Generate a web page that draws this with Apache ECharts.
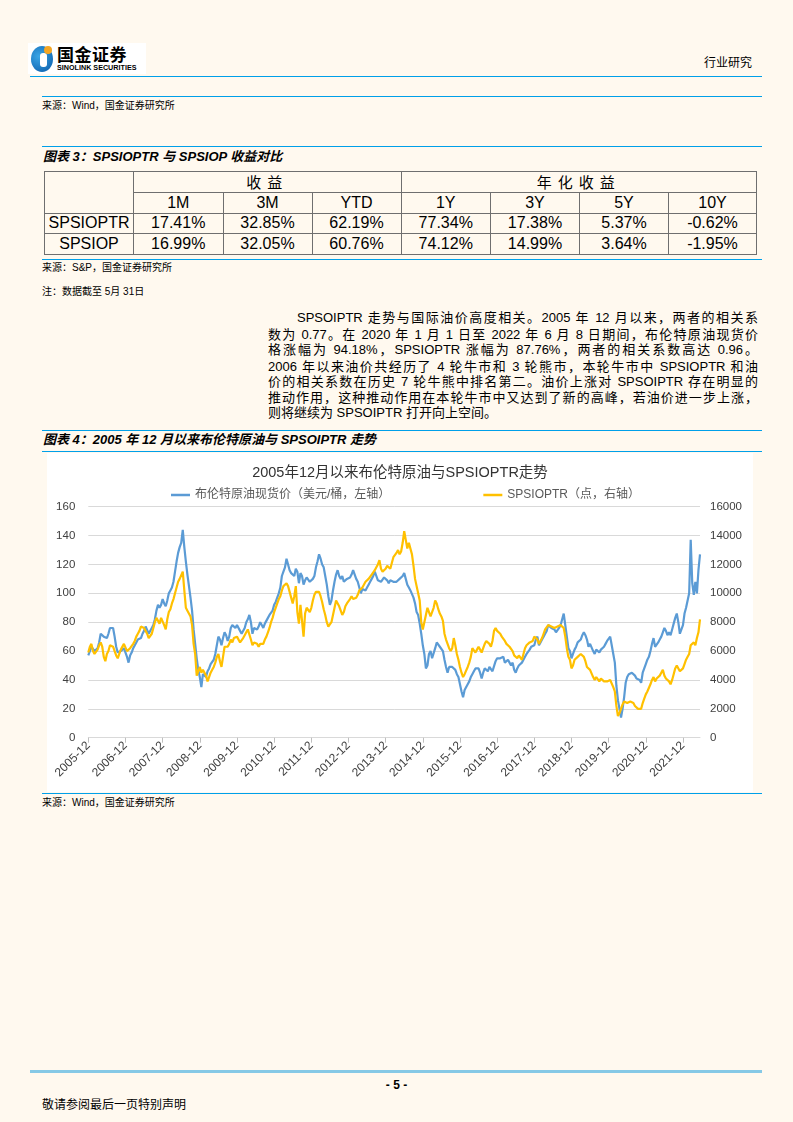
<!DOCTYPE html>
<html><head><meta charset="utf-8">
<script src="https://cdn.jsdelivr.net/npm/echarts/dist/echarts.min.js"></script>
<style>
body{margin:0;width:793px;height:1122px;background:#FFF9EF;position:relative;font-family:"Liberation Sans",Arial,"Noto Sans CJK SC",sans-serif;color:#000;overflow:hidden}
.abs{position:absolute;white-space:nowrap}
.hl{position:absolute;height:0;border-top:1.5px solid #00A0E9}
.src{position:absolute;left:42px;font-size:10px;line-height:12px;white-space:nowrap}
.ttl{position:absolute;left:43px;font-size:13px;line-height:16px;font-weight:bold;font-style:italic;white-space:nowrap}
.pl{position:absolute;left:268px;width:490px;font-size:13px;line-height:16px;text-align:justify;text-align-last:justify;white-space:nowrap}
table{position:absolute;left:44px;top:171px;border-collapse:collapse;table-layout:fixed;border:1.5px solid #404040;font-size:16px}
td{border:1px solid #6f6f6f;text-align:center;padding:0;line-height:18px;white-space:nowrap}
</style></head>
<body>
<!-- header -->
<div class="abs" style="left:28px;top:43px;width:118px;height:31px;background:#fff"></div>
<div class="abs" style="left:31px;top:46px;width:22px;height:26px;border-radius:50%;background:radial-gradient(circle at 35% 40%,#3aa6e6,#0a5aa8)"></div>
<div class="abs" style="left:40px;top:53px;width:7px;height:14px;border-radius:3px;background:#fff"></div>
<div class="abs" style="left:44px;top:46px;width:8px;height:8px;border-radius:50%;background:#F5A623"></div>
<div class="abs" style="left:57px;top:44px;font-family:'Noto Sans CJK SC';font-weight:bold;font-size:17px;line-height:19px;letter-spacing:0.5px">国金证券</div>
<div class="abs" style="left:57px;top:63px;font-family:'Liberation Sans';font-weight:bold;font-size:7.2px;line-height:9px">SINOLINK SECURITIES</div>
<div class="abs" style="left:704px;top:56px;font-size:12px;line-height:14px">行业研究</div>
<div class="hl" style="top:76px;left:30px;width:732px"></div>

<div class="hl" style="top:96px;left:42px;width:720px"></div>
<div class="src" style="top:100px">来源：Wind，国金证券研究所</div>

<div class="hl" style="top:146px;left:42px;width:720px"></div>
<div class="ttl" style="top:149px">图表 3：SPSIOPTR 与 SPSIOP 收益对比</div>

<table>
<colgroup><col style="width:89px"><col style="width:89.5px"><col style="width:89px"><col style="width:89px"><col style="width:89.5px"><col style="width:89px"><col style="width:89px"><col style="width:88px"></colgroup>
<tr style="height:21px"><td rowspan="2"></td><td colspan="3" style="font-family:'Noto Sans CJK SC';font-size:15px;letter-spacing:6px">收益</td><td colspan="4" style="font-family:'Noto Sans CJK SC';font-size:15px;letter-spacing:6px">年化收益</td></tr>
<tr style="height:20.5px"><td>1M</td><td>3M</td><td>YTD</td><td>1Y</td><td>3Y</td><td>5Y</td><td>10Y</td></tr>
<tr style="height:20.5px"><td>SPSIOPTR</td><td>17.41%</td><td>32.85%</td><td>62.19%</td><td>77.34%</td><td>17.38%</td><td>5.37%</td><td>-0.62%</td></tr>
<tr style="height:20.5px"><td>SPSIOP</td><td>16.99%</td><td>32.05%</td><td>60.76%</td><td>74.12%</td><td>14.99%</td><td>3.64%</td><td>-1.95%</td></tr>
</table>

<div class="hl" style="top:259px;left:42px;width:720px"></div>
<div class="src" style="top:262px">来源：S&amp;P，国金证券研究所</div>
<div class="src" style="top:286px">注：数据截至 5月 31日</div>

<div class="pl" style="top:310px;left:297px;width:461px">SPSOIPTR 走势与国际油价高度相关。2005 年 12 月以来，两者的相关系</div>
<div class="pl" style="top:327px">数为 0.77。在 2020 年 1 月 1 日至 2022 年 6 月 8 日期间，布伦特原油现货价</div>
<div class="pl" style="top:342px">格涨幅为 94.18%，SPSIOPTR 涨幅为 87.76%，两者的相关系数高达 0.96。</div>
<div class="pl" style="top:359px">2006 年以来油价共经历了 4 轮牛市和 3 轮熊市，本轮牛市中 SPSIOPTR 和油</div>
<div class="pl" style="top:374px">价的相关系数在历史 7 轮牛熊中排名第二。油价上涨对 SPSOIPTR 存在明显的</div>
<div class="pl" style="top:390px">推动作用，这种推动作用在本轮牛市中又达到了新的高峰，若油价进一步上涨，</div>
<div class="pl" style="top:405px;text-align:left;text-align-last:left">则将继续为 SPSOIPTR 打开向上空间。</div>

<div class="hl" style="top:430px;left:42px;width:720px"></div>
<div class="ttl" style="top:432px">图表 4：2005 年 12 月以来布伦特原油与 SPSOIPTR 走势</div>
<div class="hl" style="top:451px;left:42px;width:720px"></div>

<div id="chart" class="abs" style="left:47px;top:453px;width:706px;height:339px;background:#fff"></div>

<div class="hl" style="top:793px;left:42px;width:720px"></div>
<div class="src" style="top:797px">来源：Wind，国金证券研究所</div>

<div class="abs" style="top:1070px;left:30px;width:732px;height:3px;background:#86C9E6"></div>
<div class="abs" style="top:1078px;left:0;width:793px;text-align:center;font-size:12px;line-height:14px;font-weight:bold">- 5 -</div>
<div class="abs" style="top:1098px;left:42px;font-size:12px;line-height:14px">敬请参阅最后一页特别声明</div>

<script>
// Half-monthly readings, starting 2005-12 (two points per month)
const brent = [
57,60,63,62,60,61,62,66,72,73,70,70,69,72,76,77,76,70,63,59,59,60,60,62,
62,56,52,57,59,62,63,66,68,67,69,72,74,77,76,72,71,76,78,82,88,92,90,92,
96,93,91,95,100,102,104,108,115,122,128,132,135,144,132,122,113,105,97,88,75,65,55,47,
42,35,44,45,42,46,48,51,50,54,58,64,70,68,64,69,73,71,67,70,76,78,78,76,
78,78,74,72,73,76,80,82,85,80,72,76,76,75,77,80,78,76,79,80,83,85,86,88,
92,94,97,100,104,112,115,118,124,125,116,114,113,112,117,115,107,114,112,106,109,111,112,108,
108,110,112,118,122,127,124,120,118,112,106,98,92,95,102,108,113,116,112,110,112,108,109,110,
109,111,113,116,117,110,108,104,100,103,104,102,104,106,108,110,112,115,112,109,110,108,107,111,
111,109,107,109,110,108,107,108,109,110,110,112,114,110,106,104,102,101,97,93,87,85,79,72,
64,58,48,50,58,60,55,56,62,66,65,63,62,60,54,49,45,49,48,49,49,47,44,42,
37,32,28,33,34,37,39,42,44,46,48,49,48,45,41,45,48,47,46,49,50,46,46,53,
55,55,55,56,56,52,51,54,52,50,52,47,45,48,50,51,52,54,56,58,58,61,63,62,
64,68,70,64,66,68,70,72,74,78,79,76,76,75,73,72,76,78,82,86,78,70,62,60,
55,58,61,63,66,67,68,71,73,71,68,63,65,64,60,58,61,62,59,61,62,63,65,67,
67,70,64,58,52,36,26,25,14,20,28,38,42,44,45,45,45,43,41,42,40,38,45,48,
51,54,56,60,65,69,63,64,66,68,70,73,76,74,71,73,71,75,79,83,86,80,72,75,
78,86,90,95,100,137,107,99,108,100,116,127
];
const spsioptr = [
5900,6300,6500,6000,5800,5700,6100,6400,6600,6300,5600,5300,5800,6000,6400,6500,6300,6000,5700,5500,5800,6100,6200,6500,
6400,6000,5900,6200,6300,6500,6700,7000,7200,7400,7700,7800,7600,7400,7200,6900,7000,7200,7600,8000,8300,8100,7900,8300,
8400,7800,7500,8200,8700,8900,9300,9600,10000,10400,10800,11000,11000,11500,10200,9000,8800,8900,8400,7800,6500,5800,4300,4600,
4900,4500,4700,4800,4300,3900,4200,4500,4700,4900,5200,5600,5800,5300,4900,5600,6300,6200,6300,6500,6800,6600,6900,7000,
7000,6900,6600,6500,6900,7100,7300,7500,7400,6800,6400,6600,6700,6500,6300,6500,6400,6500,6800,7000,7300,7600,8000,8300,
8700,9000,9300,9600,9800,10200,10500,10600,10700,10500,10100,9700,9300,9800,10500,8700,7900,9200,9300,7000,8600,9000,8900,8700,
9000,9500,9900,10100,10200,10100,9800,9400,8900,8500,8000,7700,7600,8000,8500,9000,9500,9400,9100,8800,8500,8700,9100,9300,
9200,9600,9800,9600,9500,9700,9900,10200,10300,10400,10500,10800,10900,11000,11100,11300,11200,11600,11800,12000,12300,11700,11500,11600,
11700,11900,11800,11700,12100,12500,12400,12800,13000,12700,12900,13500,14300,13700,13100,13500,13400,12700,11900,11000,10500,10000,9500,8000,
7500,8000,8500,9000,9100,8400,8700,9000,9500,9300,8900,8600,8400,8100,7200,6800,6500,6200,6000,6200,6900,6400,5800,5400,
4900,4500,4200,4400,4500,4900,5200,5600,6200,6300,5900,6100,6300,6100,5900,6200,6500,6700,6800,6500,6300,6700,7400,7600,
7400,7300,7200,7000,6900,6700,6500,6400,6300,6200,6000,5700,5600,5500,5700,5600,5400,5800,6200,6400,6500,6600,6500,6700,
7000,7100,6800,6500,6600,6900,7200,7500,7600,7800,7900,7700,7800,7600,7500,7700,7600,7800,7900,7600,7000,6200,5600,5400,
4800,5000,5400,5500,5600,5700,5800,5700,5600,5300,4900,5000,4700,4600,4200,4000,4200,4300,3900,4100,4000,3900,3800,3900,
4000,4000,3900,3500,3200,2200,1500,1700,2000,2300,2500,2600,2400,2500,2500,2600,2400,2200,2100,2000,1900,2000,2400,2700,
3000,3200,3300,3700,4000,4200,3900,4100,4000,4300,4500,4700,4300,4100,4200,3900,3700,4000,4400,4800,5000,5100,4600,4500,
4800,5100,5400,5600,5800,6400,6300,6600,6400,6900,7300,8200
];
const startYear = 2005, startMonth = 12;
const categories = brent.map((_, i) => {
  const mm = startMonth - 1 + Math.floor(i / 2);
  const y = startYear + Math.floor(mm / 12);
  const mo = mm % 12 + 1;
  return y + '-' + String(mo).padStart(2, '0') + (i % 2 ? '-16' : '-01');
});
const leftTicks = {min: 0, max: 160, interval: 20};
const rightTicks = {min: 0, max: 16000, interval: 2000};
const seriesNames = ['布伦特原油现货价（美元/桶，左轴）', 'SPSIOPTR（点，右轴）'];
const chartTitle = '2005年12月以来布伦特原油与SPSIOPTR走势';

const ff = '"Liberation Sans", Arial, "Noto Sans CJK SC", sans-serif';
const every = (idx) => idx % 24 === 0;
const chart = echarts.init(document.getElementById('chart'), null, {renderer: 'canvas'});
chart.setOption({
  animation: false,
  backgroundColor: '#fff',
  title: {text: chartTitle, left: 'center', top: 8,
    textStyle: {fontSize: 14.5, fontWeight: 'normal', color: '#333', fontFamily: ff}},
  legend: {top: 31, left: 119, itemGap: 93, itemWidth: 19, itemHeight: 2.5, icon: 'rect',
    textStyle: {fontSize: 12, color: '#595959', fontFamily: ff}, data: seriesNames},
  grid: {left: 41.3, right: 53, top: 53.7, bottom: 54.3, containLabel: false},
  xAxis: {type: 'category', data: categories, boundaryGap: false,
    axisLine: {lineStyle: {color: '#D9D9D9', width: 1}},
    axisTick: {interval: every, length: 5, lineStyle: {color: '#BFBFBF'}},
    axisLabel: {interval: every, rotate: 45, formatter: v => v.slice(0, 7), fontSize: 12,
      color: '#404040', fontFamily: ff, margin: 6}},
  yAxis: [
    Object.assign({type: 'value', position: 'left',
      axisLabel: {fontSize: 11.5, color: '#404040', fontFamily: ff, margin: 13, formatter: v => String(v)},
      splitLine: {lineStyle: {color: '#D9D9D9', width: 1}},
      axisLine: {show: false}, axisTick: {show: false}}, leftTicks),
    Object.assign({type: 'value', position: 'right',
      axisLabel: {fontSize: 11.5, color: '#404040', fontFamily: ff, margin: 10, formatter: v => String(v)},
      splitLine: {show: false}, axisLine: {show: false}, axisTick: {show: false}}, rightTicks)
  ],
  series: [
    {name: seriesNames[0], type: 'line', yAxisIndex: 0, data: brent, showSymbol: false, symbol: 'none',
      lineStyle: {width: 2.2, color: '#5B9BD5'}, itemStyle: {color: '#5B9BD5'}},
    {name: seriesNames[1], type: 'line', yAxisIndex: 1, data: spsioptr, showSymbol: false, symbol: 'none',
      lineStyle: {width: 2.2, color: '#FFC000'}, itemStyle: {color: '#FFC000'}}
  ]
});
</script>
</body></html>
